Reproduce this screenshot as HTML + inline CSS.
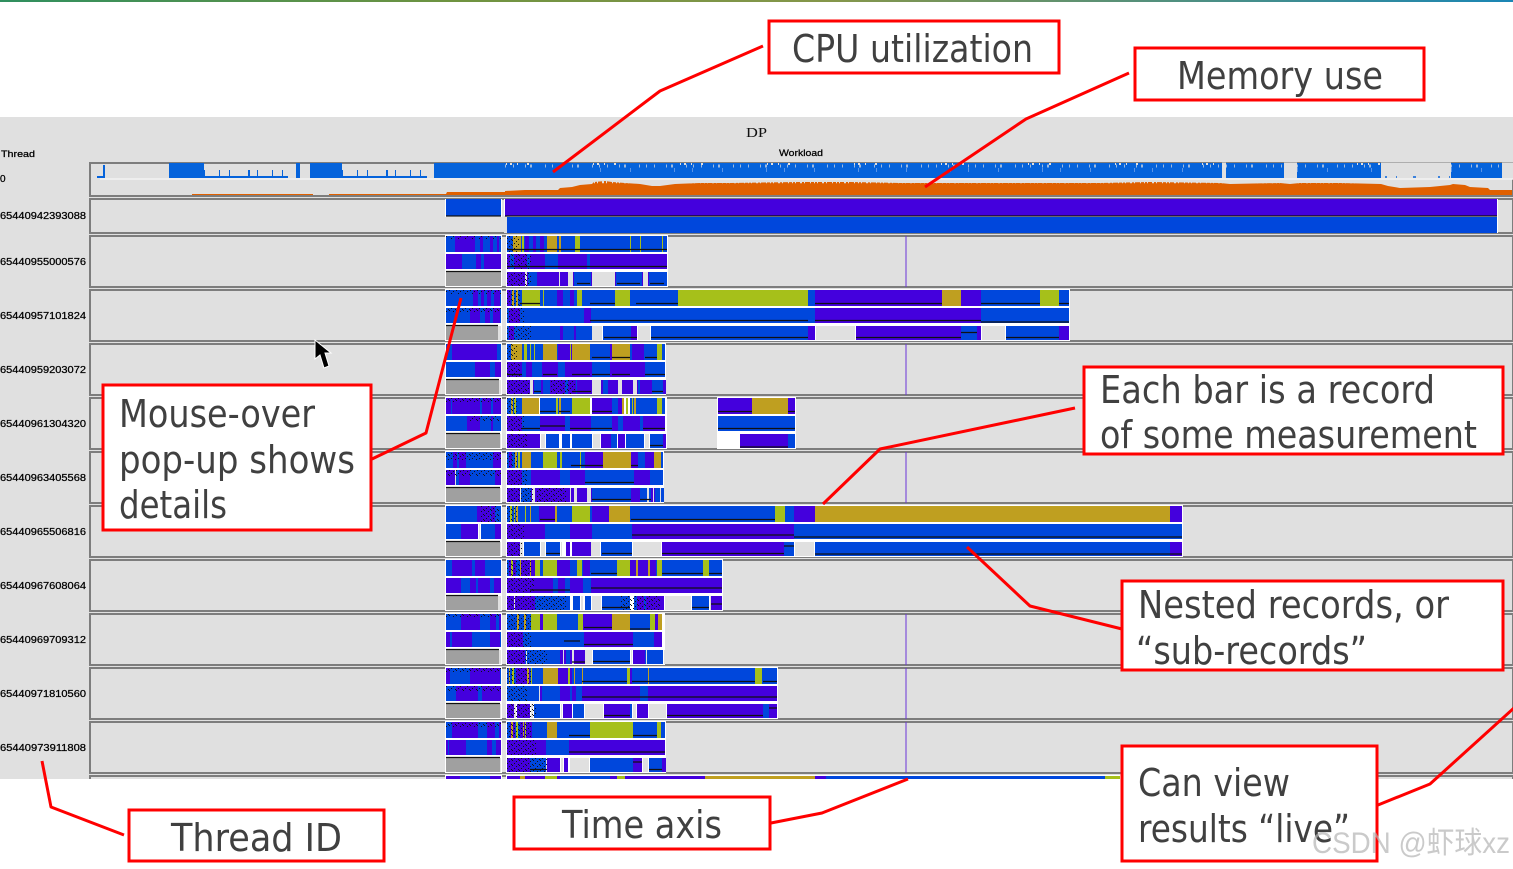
<!DOCTYPE html>
<html><head><meta charset="utf-8"><title>Workload</title>
<style>
html,body{margin:0;padding:0;background:#fff;width:1513px;height:869px;overflow:hidden}
svg{display:block}
path{fill:none}
.a{stroke-width:16}.c{stroke-width:15}.d{stroke-width:14}
.b{stroke:#0047dc}.p{stroke:#4400dd}.o{stroke:#a6c01a}.g{stroke:#bf9f20}.y{stroke:#a0a0a0}.e{stroke:#e0e0e0}
.k{stroke:#111;stroke-width:1.2}
.w{fill:#fff}
.n1{font:10px "Liberation Sans",sans-serif;fill:#000;stroke:#000;stroke-width:.25}
.r{stroke:#f00;stroke-width:3;fill:none;stroke-linejoin:round}
.box{stroke:#f00;stroke-width:3;fill:#fff}
.t{font-family:"DejaVu Sans","Liberation Sans",sans-serif;font-size:38px;fill:#404040}
.f{fill:#e0e0e0;stroke:#7d7d7d;stroke-width:2}
</style></head><body>
<svg xmlns="http://www.w3.org/2000/svg" width="1513" height="869" viewBox="0 0 1513 869">
<defs>
<linearGradient id="top"><stop offset="0" stop-color="#2f8f5f"/><stop offset=".3" stop-color="#6f9340"/><stop offset=".55" stop-color="#85964a"/><stop offset=".8" stop-color="#4b8f85"/><stop offset="1" stop-color="#1a86b5"/></linearGradient>
<pattern id="n" width="7" height="5" patternUnits="userSpaceOnUse"><path d="M1 .5h1M5 1.5h1M3 3.5h1M0 4.5h1" stroke="#111"/></pattern>
</defs>
<rect width="1513" height="2" fill="url(#top)"/>
<rect y="117" width="1513" height="662" fill="#e0e0e0"/>

<text x="746" y="137" font-family="'Liberation Serif',serif" font-size="14" textLength="21" lengthAdjust="spacingAndGlyphs" fill="#111">DP</text>
<text class="n1" x="1" y="157" textLength="34" lengthAdjust="spacingAndGlyphs" style="font-size:9px">Thread</text>
<text class="n1" x="779" y="156" textLength="44" lengthAdjust="spacingAndGlyphs" style="font-size:9px">Workload</text>
<text class="n1" x="0" y="182">0</text>
<text class="n1" x="0" y="219" textLength="86" lengthAdjust="spacingAndGlyphs">65440942393088</text>
<text class="n1" x="0" y="265" textLength="86" lengthAdjust="spacingAndGlyphs">65440955000576</text>
<text class="n1" x="0" y="319" textLength="86" lengthAdjust="spacingAndGlyphs">65440957101824</text>
<text class="n1" x="0" y="373" textLength="86" lengthAdjust="spacingAndGlyphs">65440959203072</text>
<text class="n1" x="0" y="427" textLength="86" lengthAdjust="spacingAndGlyphs">65440961304320</text>
<text class="n1" x="0" y="481" textLength="86" lengthAdjust="spacingAndGlyphs">65440963405568</text>
<text class="n1" x="0" y="535" textLength="86" lengthAdjust="spacingAndGlyphs">65440965506816</text>
<text class="n1" x="0" y="589" textLength="86" lengthAdjust="spacingAndGlyphs">65440967608064</text>
<text class="n1" x="0" y="643" textLength="86" lengthAdjust="spacingAndGlyphs">65440969709312</text>
<text class="n1" x="0" y="697" textLength="86" lengthAdjust="spacingAndGlyphs">65440971810560</text>
<text class="n1" x="0" y="751" textLength="86" lengthAdjust="spacingAndGlyphs">65440973911808</text>

<!-- panels -->
<rect class="f" x="90" y="163" width="1423" height="33"/>
<rect class="f" x="90" y="199" width="1423" height="34"/>
<rect class="f" x="90" y="236" width="1423" height="51"/>
<rect class="f" x="90" y="290" width="1423" height="51"/>
<rect class="f" x="90" y="344" width="1423" height="51"/>
<rect class="f" x="90" y="398" width="1423" height="51"/>
<rect class="f" x="90" y="452" width="1423" height="51"/>
<rect class="f" x="90" y="506" width="1423" height="51"/>
<rect class="f" x="90" y="560" width="1423" height="51"/>
<rect class="f" x="90" y="614" width="1423" height="51"/>
<rect class="f" x="90" y="668" width="1423" height="51"/>
<rect class="f" x="90" y="722" width="1423" height="51"/>
<rect class="f" x="90" y="776" width="1423" height="6"/>
<rect y="779" width="1513" height="90" fill="#fff"/>

<!-- CPU -->
<g fill="#0563db">
<rect x="169" y="163" width="35" height="15"/><rect x="296" y="163" width="4" height="15"/><rect x="310" y="163" width="32" height="15"/><rect x="434" y="163" width="1078" height="15"/>
<rect x="103" y="165" width="2" height="13"/><rect x="97" y="176" width="8" height="2"/>
</g>
<path d="M204 177H288M342 177H427" stroke="#0563db" stroke-width="2"/>
<path d="M204 173H288M342 173H427" stroke="#0563db" stroke-width="6" stroke-dasharray="1 14 1 9 1 18 2 7"/>
<path d="M1222 171H1226M1284 171H1297M1381 171H1451M1502 171H1513" stroke="#e0e0e0" stroke-width="17"/>
<path d="M1385 177H1450" stroke="#0563db" stroke-width="1.5" stroke-dasharray="2 9 1 16 3 22"/>
<path d="M446 164H1222M1226 164H1284M1297 164H1381M1451 164H1502" stroke="#e0e0e0" stroke-width="2" stroke-dasharray="0 60 1 3 2 5 1 9 2 4"/>
<path d="M505 166H1222M1226 166H1284M1297 166H1381M1451 166H1502" stroke="#e0e0e0" stroke-width="3" stroke-opacity=".7" stroke-dasharray="1 7 1 11 1 4 2 13 1 6"/>
<path d="M600 170H1222M1297 170H1381M1451 170H1502" stroke="#9fbdf0" stroke-width="4" stroke-opacity=".55" stroke-dasharray="1 29 1 43 1 17"/>
<path d="M100 179H1513" stroke="#f2f2f2" stroke-width="1.5"/>
<polygon fill="#e06000" points="192,195 192,194 313,194 313,195 329,195 329,194 446,194 447,192 505,192 505,191 525,190 545,190 558,190 560,188 572,187 580,185 592,184 594,182 605,181 612,182 625,183 640,184 652,186 660,186 675,184 700,183 730,183 800,182 850,182 900,183 960,183 1010,183 1060,183 1100,183 1150,182 1220,183 1230,184 1280,183 1290,184 1300,183 1340,183 1381,184 1388,186 1400,188 1430,187 1450,185 1453,184 1465,185 1470,187 1488,188 1490,190 1512,190 1512,195"/>
<path d="M594 182H1385" stroke="#e0e0e0" stroke-width="2.5" stroke-dasharray="1 2 1 4 2 2 1 5 1 3"/>

<!-- time marker -->
<path d="M906 236V287M906 344V395M906 452V503M906 614V665M906 668V719M906 722V773M906 776V779" stroke="#6a35d8" stroke-width="1"/>

<!-- row 1 -->
<rect class="w" x="445" y="199" width="57" height="18"/><rect class="w" x="504" y="199" width="994" height="34"/>
<rect x="504" y="216" width="3" height="17" fill="#e0e0e0"/>
<rect x="446" y="199" width="55" height="17" fill="#0047dc"/><rect x="505" y="199" width="992" height="17" fill="#4400dd"/>
<rect x="507" y="217" width="990" height="16" fill="#0047dc"/>
<path class="k" d="M446 216H501M505 216H1497"/>

<!-- row 2 -->
<g transform="translate(0,235)">
<rect class="w" x="445" y="0" width="57" height="52"/><rect class="w" x="506" y="0" width="162" height="52"/>
<path class="b a" d="M446 9H501M507 9H667"/><path class="p a" d="M455 9H475M480 9H483M490 9H493M497 9H499M525 9H529M533 9H536M540 9H544"/>
<path class="g a" d="M513 9H521M547 9H557M559 9H561"/><path class="o a" d="M522 9H524M575 9H580M630 9H631M640 9H641M662 9H663"/>
<path class="p c" d="M446 26.5H501M507 26.5H667"/><path class="b c" d="M462 26.5H476M481 26.5H484M510 26.5H514M527 26.5H530M545 26.5H558M587 26.5H590"/>
<path class="y d" d="M446 44H501"/><path class="k" d="M446 36.5H501M507 14.5H667M507 31.5H667"/>
<path class="p d" d="M507 44H667"/><path class="b d" d="M528 44H537M574 44H591M616 44H642M649 44H667"/>
<path class="e d" d="M525 44H527M559 44H560M568 44H573M592 44H615M643 44H648"/>
<path class="k" d="M577 48.5H590M617 48.5H640M650 48.5H664"/>
</g>
<!-- row 3 -->
<g transform="translate(0,289)">
<rect class="w" x="445" y="0" width="57" height="52"/><rect class="w" x="506" y="0" width="564" height="52"/>
<path class="b a" d="M446 9H501M507 9H1069"/><path class="p a" d="M473 9H478M481 9H484M487 9H491M494 9H500M507 9H511M557 9H563M570 9H574M815 9H942M961 9H981"/>
<path class="o a" d="M522 9H540M543 9H544M577 9H582M615 9H630M678 9H808M1040 9H1059"/><path class="g a" d="M512 9H514M516 9H518M942 9H961"/>
<path class="b c" d="M446 26.5H501M507 26.5H1069"/><path class="p c" d="M470 26.5H480M485 26.5H490M493 26.5H500M509 26.5H520M584 26.5H591M815 26.5H981"/>
<path class="y d" d="M446 44H498"/><path class="b d" d="M507 44H592M603 44H637M651 44H808M1006 44H1059"/>
<path class="p d" d="M509 44H514M560 44H563M574 44H576M631 44H637M808 44H815M856 44H961M977 44H981M1059 44H1069"/>
<path class="b d" d="M961 44H977"/>
<path class="e d" d="M592 44H602M638 44H650M816 44H855M982 44H1005M498 44H501"/>
<path class="k" d="M446 36.5H498M520 14.5H540M590 14.5H615M636 14.5H678M815 14.5H942M981 14.5H1040M1059 14.5H1069M815 31.5H981M981 33H1069M590 31.5H808M604 48.5H637M651 48.5H808M856 48.5H961M961 43.5H977M1006 48.5H1059"/>
</g>
<!-- row 4 -->
<g transform="translate(0,343)">
<rect class="w" x="445" y="0" width="57" height="52"/><rect class="w" x="506" y="0" width="160" height="52"/>
<path class="b a" d="M446 9H501M507 9H665"/><path class="p a" d="M452 9H497M558 9H572M584 9H590M610 9H612M632 9H644"/>
<path class="g a" d="M511 9H522M543 9H557M572 9H590M612 9H630"/><path class="o a" d="M524 9H527M530 9H531M534 9H535M657 9H662M570 9H571"/>
<path class="p c" d="M446 26.5H501M507 26.5H665"/><path class="b c" d="M446 26.5H453M453 26.5H475M490 26.5H495M522 26.5H526M532 26.5H542M558 26.5H565M592 26.5H610M645 26.5H665"/>
<path class="y d" d="M446 44H499"/><path class="p d" d="M507 44H666"/><path class="b d" d="M534 44H541M543 44H550M565 44H568M576 44H577M603 44H608M638 44H640M652 44H663"/>
<path class="e d" d="M530 44H533M592 44H601M618 44H622M633 44H637M499 44H501"/>
<path class="k" d="M446 36.5H499M592 14.5H610M612 14.5H630M645 14.5H657M507 31.5H522M543 31.5H557M572 31.5H590M592 31.5H610M612 31.5H630M645 31.5H665M652 48.5H663M534 48.5H541M572 48.5H591"/>
</g>
<!-- row 5 -->
<g transform="translate(0,397)">
<rect class="w" x="445" y="0" width="57" height="52"/><rect class="w" x="506" y="0" width="161" height="52"/><rect class="w" x="717" y="0" width="79" height="52"/>
<path class="p a" d="M446 9H501M592 9H612M618 9H622M718 9H752M788 9H795"/><path class="b a" d="M451 9H452M480 9H482M491 9H493M507 9H522M540 9H556M557 9H572M612 9H618M630 9H657M662 9H665"/>
<path class="g a" d="M522 9H539M511 9H513M622 9H624M752 9H788M559 9H561M634 9H636"/><path class="o a" d="M514 9H516M556 9H558M572 9H590M626 9H628M657 9H662M632 9H633"/>
<path class="b c" d="M446 26.5H501M718 26.5H795"/><path class="p c" d="M467 26.5H480M491 26.5H493M507 26.5H522M540 26.5H565M570 26.5H591M612 26.5H618M623 26.5H640M643 26.5H665"/><path class="b c" d="M522 26.5H540M565 26.5H570M591 26.5H612M618 26.5H623M640 26.5H643"/>
<path class="y d" d="M446 44H500"/><path class="p d" d="M507 44H540M601 44H611M740 44H788M663 44H666M618 44H625"/>
<path class="b d" d="M546 44H559M562 44H570M572 44H592M611 44H617M626 44H644M650 44H663M788 44H795"/>
<path class="e d" d="M541 44H545M593 44H600M645 44H649M500 44H501"/>
<path class="k" d="M446 36.5H500M540 14.5H556M559 14.5H570M592 14.5H612M718 14.5H752M788 14.5H795M718 31.5H795M522 31.5H540M540 29H565M570 31.5H591M591 31.5H612M643 31.5H665M740 50H788M650 48.5H663"/>
</g>
<!-- row 6 -->
<g transform="translate(0,451)">
<rect class="w" x="445" y="0" width="57" height="52"/><rect class="w" x="506" y="0" width="158" height="52"/>
<path class="b a" d="M446 9H501M507 9H663"/><path class="p a" d="M453 9H457M459 9H466M493 9H501M522 9H531M585 9H603M631 9H638M645 9H654M509 9H512"/>
<path class="g a" d="M522 9H531M603 9H631M654 9H661M515 9H517"/><path class="o a" d="M518 9H520M543 9H557M560 9H562M580 9H581"/>
<path class="p c" d="M446 26.5H501M507 26.5H663"/><path class="b c" d="M456 26.5H459M470 26.5H495M522 26.5H531M560 26.5H570M585 26.5H634M650 26.5H663"/>
<path class="e c" d="M455 26.5H456"/>
<path class="y d" d="M446 44H500"/><path class="p d" d="M507 44H660"/><path class="b d" d="M521 44H531M592 44H631M640 44H651M655 44H664"/>
<path class="e d" d="M520 44H521M532 44H535M570 44H571M574 44H577M587 44H591M647 44H649M653 44H654M660 44H661M500 44H501"/>
<path class="k" d="M446 36.5H500M571 14.5H585M585 14.5H603M631 14.5H638M585 31.5H634M592 48.5H631M640 48.5H651"/>
</g>
<!-- row 7 -->
<g transform="translate(0,505)">
<rect class="w" x="445" y="0" width="57" height="52"/><rect class="w" x="506" y="0" width="677" height="52"/>
<path class="b a" d="M446 9H501M507 9H1182"/><path class="p a" d="M477 9H490M491 9H495M539 9H555M592 9H609M794 9H815M1170 9H1182"/>
<path class="o a" d="M510 9H512M514 9H515M525 9H526M572 9H590M775 9H785"/><path class="g a" d="M516 9H518M555 9H557M609 9H630M815 9H1170M530 9H531"/>
<path class="b c" d="M446 26.5H461M481 26.5H501M507 26.5H1182"/><path class="p c" d="M461 26.5H478M507 26.5H545M570 26.5H592M632 26.5H794M495 26.5H501"/><path class="e c" d="M479 26.5H480"/>
<path class="y d" d="M446 44H500"/><path class="p d" d="M507 44H520M566 44H570M572 44H591M662 44H784M1170 44H1182"/>
<path class="b d" d="M524 44H540M546 44H560M601 44H632M784 44H794M815 44H1170"/>
<path class="e d" d="M520 44H523M541 44H545M561 44H562M591 44H600M633 44H661M795 44H814M500 44H501"/>
<path class="k" d="M446 36.5H500M631 14.5H775M540 14.5H555M632 30H794M794 32H1182M546 48.5H560M602 48.5H632M662 48.5H784M784 41H794M815 49H1182"/>
</g>
<!-- row 8 -->
<g transform="translate(0,559)">
<rect class="w" x="445" y="0" width="57" height="52"/><rect class="w" x="506" y="0" width="217" height="52"/>
<path class="b a" d="M446 9H501M507 9H722"/><path class="p a" d="M452 9H472M475 9H485M509 9H516M520 9H535M557 9H570M583 9H590M617 9H618M630 9H656"/>
<path class="o a" d="M511 9H513M535 9H540M543 9H557M577 9H582M617 9H630M657 9H662M703 9H709"/><path class="g a" d="M520 9H521M636 9H638M648 9H650M530 9H531"/>
<path class="p c" d="M446 26.5H501M507 26.5H722"/><path class="b c" d="M461 26.5H470M476 26.5H478M490 26.5H494M553 26.5H558M565 26.5H570M583 26.5H591"/>
<path class="y d" d="M446 44H498"/><path class="p d" d="M507 44H570M634 44H664M711 44H722"/><path class="b d" d="M535 44H570M573 44H580M585 44H591M602 44H630M634 44H637M644 44H646M692 44H709"/>
<path class="e d" d="M514 44H515M581 44H583M592 44H601M665 44H691M710 44H711M498 44H501"/>
<path class="k" d="M446 36.5H498M591 14.5H617M662 14.5H703M709 14.5H722M591 29H722M530 31H570M602 48.5H630M692 48.5H709M711 45H722"/>
</g>
<!-- row 9 -->
<g transform="translate(0,613)">
<rect class="w" x="445" y="0" width="57" height="52"/><rect class="w" x="506" y="0" width="159" height="52"/>
<path class="p a" d="M446 9H501M507 9H662M584 9H612"/><path class="b a" d="M446 9H461M480 9H490M507 9H531M557 9H578M630 9H650M496 9H499"/>
<path class="o a" d="M531 9H540M543 9H557M578 9H583M650 9H655"/><path class="g a" d="M517 9H519M524 9H526M612 9H630M658 9H662"/>
<path class="p c" d="M446 26.5H501M507 26.5H662M584 26.5H633"/><path class="b c" d="M450 26.5H452M472 26.5H490M523 26.5H584M633 26.5H654M500 26.5H501M648 26.5H654"/>
<path class="y d" d="M446 44H499"/><path class="p d" d="M507 44H585M633 44H649"/><path class="b d" d="M525 44H560M593 44H630M645 44H663M566 44H570"/>
<path class="e d" d="M526 44H527M563 44H564M572 44H574M585 44H592M631 44H632M646 44H647M664 44H665M499 44H501"/>
<path class="k" d="M446 36.5H499M584 14.5H612M630 16H650M584 31.5H633M564 28H580M593 48.5H630M572 49H585"/>
</g>
<!-- row 10 -->
<g transform="translate(0,667)">
<rect class="w" x="445" y="0" width="57" height="52"/><rect class="w" x="506" y="0" width="272" height="52"/>
<path class="b a" d="M446 9H501M507 9H777"/><path class="p a" d="M470 9H500M516 9H530M558 9H572M627 9H632M446 9H450"/>
<path class="g a" d="M509 9H510M543 9H558M527 9H529M574 9H575M582 9H583M648 9H649"/><path class="o a" d="M512 9H514M531 9H532M627 9H630M755 9H762M568 9H570"/>
<path class="p c" d="M446 26.5H501M507 26.5H777"/><path class="b c" d="M446 26.5H456M478 26.5H482M507 26.5H540M542 26.5H560M570 26.5H572M576 26.5H582M640 26.5H648"/><path class="e c" d="M539 26.5H540"/>
<path class="y d" d="M446 44H500"/><path class="p d" d="M507 44H514M517 44H530M563 44H572M604 44H630M637 44H648M667 44H763M769 44H777"/><path class="b d" d="M534 44H560M573 44H584M630 44H632M763 44H769"/>
<path class="e d" d="M514 44H516M531 44H533M561 44H562M585 44H603M633 44H636M649 44H666M500 44H501"/>
<path class="k" d="M446 36.5H500M582 14.5H627M632 14.5H755M763 14.5H777M582 30H777M604 48.5H630M667 48.5H763M769 41H777"/>
</g>
<!-- row 11 -->
<g transform="translate(0,721)">
<rect class="w" x="445" y="0" width="57" height="52"/><rect class="w" x="506" y="0" width="160" height="52"/>
<path class="p a" d="M446 9H501M507 9H569"/><path class="b a" d="M446 9H452M478 9H487M495 9H499M507 9H510M515 9H520M532 9H547M557 9H590M633 9H665"/>
<path class="g a" d="M511 9H513M547 9H557M523 9H524M598 9H599"/><path class="o a" d="M516 9H518M525 9H526M590 9H633M657 9H661"/>
<path class="p c" d="M446 26.5H501M507 26.5H665"/><path class="b c" d="M448 26.5H449M466 26.5H487M492 26.5H496M546 26.5H569"/>
<path class="y d" d="M446 44H500"/><path class="p d" d="M507 44H546M547 44H560M633 44H642M662 44H666M564 44H568"/><path class="b d" d="M530 44H546M590 44H633M649 44H662"/>
<path class="e d" d="M546 44H547M561 44H563M570 44H589M643 44H648M500 44H501"/>
<path class="k" d="M446 36.5H500M569 14.5H590M633 14.5H657M569 31H665M633 41H642M649 48.5H662M530 48.5H546"/>
</g>
<!-- row 12 -->
<rect class="w" x="445" y="775" width="57" height="4"/><rect class="w" x="506" y="775" width="620" height="4"/>
<path stroke-width="3" class="p" d="M446 777.5H501M507 777.5H640M640 777.5H705M815 777.5H826"/>
<path stroke-width="3" class="b" d="M460 777.5H490M560 777.5H610M826 777.5H1105"/>
<path stroke-width="3" class="o" d="M545 777.5H557M617 777.5H625M1105 777.5H1120"/>
<path stroke-width="3" class="g" d="M705 777.5H815M520 777.5H525"/>

<!-- speckle noise -->
<g fill="url(#n)">
<rect x="507" y="236" width="12" height="16"/><rect x="507" y="254" width="24" height="15"/><rect x="507" y="272" width="24" height="14"/><rect x="446" y="236" width="55" height="3"/>
<rect x="507" y="290" width="14" height="16"/><rect x="507" y="308" width="18" height="15"/><rect x="507" y="326" width="24" height="14"/><rect x="446" y="290" width="55" height="4"/><rect x="446" y="308" width="55" height="4"/>
<rect x="507" y="344" width="10" height="16"/><rect x="507" y="362" width="14" height="15"/><rect x="507" y="380" width="22" height="14"/><rect x="550" y="380" width="25" height="14"/>
<rect x="507" y="398" width="10" height="16"/><rect x="507" y="416" width="18" height="15"/><rect x="507" y="434" width="20" height="14"/><rect x="446" y="398" width="55" height="5"/><rect x="470" y="416" width="30" height="5"/>
<rect x="507" y="452" width="10" height="16"/><rect x="507" y="470" width="20" height="15"/><rect x="507" y="488" width="26" height="14"/><rect x="536" y="488" width="30" height="14"/><rect x="446" y="452" width="55" height="8"/><rect x="446" y="470" width="55" height="6"/>
<rect x="507" y="506" width="10" height="16"/><rect x="507" y="524" width="18" height="15"/><rect x="507" y="542" width="16" height="14"/><rect x="480" y="506" width="20" height="16"/>
<rect x="507" y="560" width="24" height="16"/><rect x="507" y="578" width="28" height="15"/><rect x="507" y="596" width="60" height="14"/><rect x="620" y="596" width="40" height="14"/>
<rect x="507" y="614" width="24" height="16"/><rect x="507" y="632" width="24" height="15"/><rect x="507" y="650" width="40" height="14"/><rect x="446" y="614" width="55" height="4"/>
<rect x="507" y="668" width="24" height="16"/><rect x="507" y="686" width="20" height="15"/><rect x="507" y="704" width="30" height="14"/><rect x="446" y="668" width="55" height="5"/><rect x="446" y="686" width="55" height="5"/>
<rect x="507" y="722" width="24" height="16"/><rect x="507" y="740" width="30" height="15"/><rect x="507" y="758" width="40" height="14"/><rect x="446" y="722" width="55" height="5"/>
</g>

<!-- cursor -->
<polygon points="315,340 315,359 320,355 324,368 329,366 325,353 331,353" fill="#000" stroke="#fff" stroke-width="1"/>

<!-- connectors -->
<polyline class="r" points="763,46 660,91 553,172"/>
<polyline class="r" points="1129,73 1026,119 925,187"/>
<polyline class="r" points="372,459 426,433 461,298"/>
<polyline class="r" points="1075,408 880,449 823,504"/>
<polyline class="r" points="1122,629 1030,606 967,547"/>
<polyline class="r" points="1378,805 1430,784 1514,708"/>
<polyline class="r" points="124,835 51,807 42,761"/>
<polyline class="r" points="771,823 822,813 908,779"/>

<!-- callouts -->
<rect class="box" x="769" y="21" width="290" height="52"/>
<rect class="box" x="1135" y="48" width="289" height="52"/>
<rect class="box" x="103" y="385" width="268" height="145"/>
<rect class="box" x="1084" y="367" width="419" height="87"/>
<rect class="box" x="1122" y="581" width="381" height="89"/>
<rect class="box" x="1122" y="746" width="255" height="115"/>
<rect class="box" x="129" y="810" width="255" height="51"/>
<rect class="box" x="514" y="797" width="256" height="52"/>

<text class="t" x="792" y="62" textLength="241" lengthAdjust="spacingAndGlyphs">CPU utilization</text>
<text class="t" x="1177" y="89" textLength="206" lengthAdjust="spacingAndGlyphs">Memory use</text>
<text class="t" x="119" y="427" textLength="196" lengthAdjust="spacingAndGlyphs">Mouse-over</text>
<text class="t" x="119" y="473" textLength="236" lengthAdjust="spacingAndGlyphs">pop-up shows</text>
<text class="t" x="119" y="518" textLength="108" lengthAdjust="spacingAndGlyphs">details</text>
<text class="t" x="1100" y="403" textLength="335" lengthAdjust="spacingAndGlyphs">Each bar is a record</text>
<text class="t" x="1100" y="448" textLength="377" lengthAdjust="spacingAndGlyphs">of some measurement</text>
<text class="t" x="1138" y="618" textLength="311" lengthAdjust="spacingAndGlyphs">Nested records, or</text>
<text class="t" x="1136" y="664" textLength="231" lengthAdjust="spacingAndGlyphs">“sub-records”</text>
<text class="t" x="1138" y="796" textLength="152" lengthAdjust="spacingAndGlyphs">Can view</text>
<text class="t" x="1138" y="842" textLength="212" lengthAdjust="spacingAndGlyphs">results “live”</text>
<text class="t" x="171" y="851" textLength="171" lengthAdjust="spacingAndGlyphs">Thread ID</text>
<text class="t" x="562" y="838" textLength="160" lengthAdjust="spacingAndGlyphs">Time axis</text>

<text x="1312" y="853" font-family="'Liberation Sans','Noto Sans CJK SC',sans-serif" font-size="30" textLength="198" lengthAdjust="spacingAndGlyphs" fill="#b4b4b4" fill-opacity=".7">CSDN @虾球xz</text>
</svg>
</body></html>
